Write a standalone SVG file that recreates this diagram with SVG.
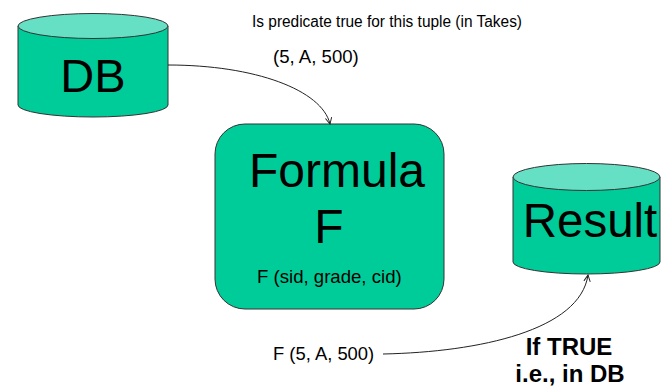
<svg xmlns="http://www.w3.org/2000/svg" width="661" height="388" viewBox="0 0 661 388">
<style>
.body{fill:#00CC99;stroke:#333;stroke-width:1}
.top{fill:#66E0C4;stroke:#333;stroke-width:1}
.t{font-family:"Liberation Sans",Arial,sans-serif;fill:#000}
.conn{fill:none;stroke:#222;stroke-width:1}
</style>
<defs>
<marker id="arr" viewBox="0 0 10 10" refX="9" refY="5" markerWidth="8" markerHeight="8" orient="auto" markerUnits="userSpaceOnUse">
<path d="M1,1 L9,5 L1,9" fill="none" stroke="#222" stroke-width="1.2"/>
</marker>
</defs>
<rect width="661" height="388" fill="#fff"/>
<g id="db">
<path class="body" d="M18,26 L18,105 A75,12 0 0 0 168,105 L168,26 Z"/>
<ellipse class="top" cx="93" cy="26" rx="75" ry="12.5"/>
<text class="t" x="93" y="92" font-size="47" text-anchor="middle">DB</text>
</g>
<g id="formula">
<rect class="body" x="215" y="124" width="229" height="185" rx="30" ry="30"/>
<text class="t" x="337" y="187" font-size="48" text-anchor="middle">Formula</text>
<text class="t" x="329" y="243" font-size="48" text-anchor="middle">F</text>
<text class="t" x="257" y="283" font-size="18.6">F (sid, grade, cid)</text>
</g>
<g id="result">
<path class="body" d="M513,177 L513,262 A73.5,12 0 0 0 660,262 L660,177 Z"/>
<ellipse class="top" cx="586.5" cy="177" rx="73.5" ry="13.5"/>
<text class="t" x="590" y="237" font-size="47.5" text-anchor="middle">Result</text>
</g>
<g id="labels">
<text class="t" x="522" y="27" font-size="16" text-anchor="end" textLength="270" lengthAdjust="spacingAndGlyphs">Is predicate true for this tuple (in Takes)</text>
<text class="t" x="273" y="63" font-size="18.6">(5, A, 500)</text>
<text class="t" x="273" y="360" font-size="18.4">F (5, A, 500)</text>
<text class="t" x="569" y="355" font-size="24" font-weight="bold" text-anchor="middle">If TRUE</text>
<text class="t" x="570" y="382" font-size="24" font-weight="bold" text-anchor="middle">i.e., in DB</text>
</g>
<g id="connectors">
<path class="conn" d="M168,65 C255,65 322,90 330,124" marker-end="url(#arr)"/>
<path class="conn" d="M383,354 C480,352 580,330 588,275" marker-end="url(#arr)"/>
</g>
</svg>
